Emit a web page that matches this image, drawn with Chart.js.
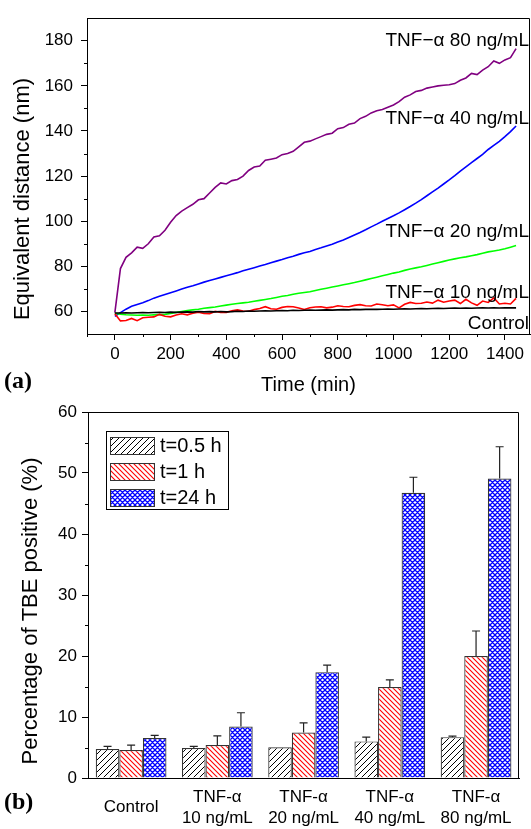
<!DOCTYPE html>
<html>
<head>
<meta charset="utf-8">
<script src="https://cdn.jsdelivr.net/npm/chart.js@4"></script>
<style>
body{margin:0;background:#fff;width:531px;height:829px;position:relative;overflow:hidden}
canvas{position:absolute;left:0}
#c1{top:0}
#c2{top:395px}
.tag{position:absolute;left:4px;font:bold 24px "Liberation Serif","Times New Roman",serif;line-height:28px}
</style>
</head>
<body>
<canvas id="c1" width="531" height="395"></canvas>
<canvas id="c2" width="531" height="434"></canvas>
<div class="tag" style="top:366px">(a)</div>
<div class="tag" style="top:787px">(b)</div>
<script>
'use strict';
// (a) equivalent distance (nm), one reading every 20 min
const times = [
  0, 20, 40, 60, 80, 100, 120, 140, 160, 180,
  200, 220, 240, 260, 280, 300, 320, 340, 360, 380,
  400, 420, 440, 460, 480, 500, 520, 540, 560, 580,
  600, 620, 640, 660, 680, 700, 720, 740, 760, 780,
  800, 820, 840, 860, 880, 900, 920, 940, 960, 980,
  1000, 1020, 1040, 1060, 1080, 1100, 1120, 1140, 1160, 1180,
  1200, 1220, 1240, 1260, 1280, 1300, 1320, 1340, 1360, 1380,
  1400, 1420, 1440];
const control = [
  59.3, 59.3, 59.4, 59.3, 59.4, 59.5, 59.4, 59.5, 59.6, 59.5,
  59.7, 59.6, 59.7, 59.8, 59.7, 60, 59.8, 59.9, 59.8, 60,
  59.8, 59.9, 60.1, 60, 60.2, 60.1, 60.2, 60.3, 60.2, 60.3,
  60.4, 60.3, 60.5, 60.4, 60.5, 60.6, 60.5, 60.6, 60.7, 60.6,
  60.7, 60.8, 60.7, 60.9, 60.8, 60.9, 61, 60.9, 61, 61.1,
  61, 61.1, 61.2, 61.1, 61.2, 61.3, 61.2, 61.3, 61.4, 61.3,
  61.4, 61.5, 61.4, 61.5, 61.4, 61.5, 61.6, 61.5, 61.6, 61.5,
  61.6, 61.6, 61.6];
const tnf10 = [
  59, 55.8, 56, 56.9, 55.9, 57.2, 57.4, 57.6, 58.7, 57.9,
  57.6, 58.4, 59, 58.5, 59.2, 59.7, 59.1, 59, 60, 59.5,
  59.6, 60.3, 60.7, 60.2, 60.1, 60.8, 61.3, 62.1, 61.2, 61,
  61.8, 62.2, 62.1, 61.5, 60.9, 61.6, 62, 62.1, 61.6, 61.9,
  62.5, 62.2, 62.1, 62.7, 63, 62.5, 62.4, 63.3, 63, 62.5,
  62.9, 61.6, 63.2, 64, 63.5, 63.6, 64.2, 63.7, 65, 64.1,
  64.6, 65, 63.5, 65.4, 63.8, 62.7, 64.6, 64, 66, 63.3,
  63.6, 63.3, 65.8];
const tnf20 = [
  59.2, 58.8, 58.5, 58.4, 58.3, 58.4, 58.3, 58.5, 58.6, 58.7,
  59.1, 59.6, 60, 60.4, 60.7, 61, 61.4, 61.7, 62, 62.4,
  62.8, 63.2, 63.5, 63.8, 64.1, 64.5, 64.9, 65.3, 65.7, 66.2,
  66.7, 67.1, 67.6, 68.1, 68.4, 68.7, 69.3, 69.8, 70.3, 70.8,
  71.3, 71.8, 72.3, 72.8, 73.4, 74, 74.6, 75.2, 75.8, 76.4,
  77, 77.5, 78.2, 78.8, 79.3, 79.8, 80.4, 81, 81.6, 82.2,
  82.8, 83.3, 83.8, 84.2, 84.7, 85.2, 85.8, 86.4, 86.8, 87.2,
  87.8, 88.5, 89.2];
const tnf40 = [
  57.8, 59.5, 61, 62.3, 63.1, 63.9, 64.8, 65.9, 66.7, 67.5,
  68.3, 69.1, 69.9, 70.7, 71.4, 72.2, 73, 73.7, 74.4, 75.1,
  75.8, 76.5, 77.2, 78, 78.7, 79.4, 80.1, 80.8, 81.6, 82.3,
  83, 83.8, 84.5, 85.3, 86, 86.6, 87.5, 88.2, 89, 89.8,
  90.8, 91.7, 92.8, 93.9, 95, 96.2, 97.5, 98.7, 100, 101.2,
  102.4, 103.7, 105.1, 106.5, 108, 109.6, 111.3, 113, 114.7, 116.5,
  118.3, 120.2, 122.2, 124.1, 126, 127.8, 129.6, 131.8, 133.6, 135.4,
  137.5, 139.7, 142.2];
const tnf80 = [
  59.5, 79, 84, 86, 88.5, 88, 90, 93, 93.5, 96,
  99.5, 102.5, 104.5, 106, 107.5, 109.5, 110, 112.5, 115, 117,
  116.5, 118, 118.5, 120, 122.5, 124, 124.5, 127, 127.5, 128,
  129.5, 130, 131, 133, 135, 135.5, 136.5, 137.5, 138.5, 139,
  141, 141.5, 143, 143.5, 145.5, 146.5, 148, 149, 149.5, 150.5,
  151.5, 153, 155, 156, 157.5, 158, 159, 159.5, 160, 160.3,
  160.5, 161, 162.5, 163.5, 165.5, 165, 167, 168.5, 171, 170,
  171.5, 172.5, 176.5];
const timeTicks = [0, 200, 400, 600, 800, 1000, 1200, 1400];
const distTicks = [60, 80, 100, 120, 140, 160, 180];

// (b) percentage of TBE positive cells, mean and upper error
const groups = [['Control'], ['TNF-α', '10 ng/mL'], ['TNF-α', '20 ng/mL'], ['TNF-α', '40 ng/mL'], ['TNF-α', '80 ng/mL']];
const tbe05 = [4.75, 4.9, 5.05, 6.0, 6.7];
const err05 = [0.45, 0.3, 0, 0.7, 0.15];
const tbe1 = [4.6, 5.4, 7.45, 14.9, 20.0];
const err1 = [0.8, 1.5, 1.6, 1.2, 4.1];
const tbe24 = [6.55, 8.45, 17.35, 46.75, 49.1];
const err24 = [0.45, 2.25, 1.15, 2.55, 5.2];

Chart.defaults.font.family = '"Liberation Sans", Arial, sans-serif';
Chart.defaults.color = '#000';
Chart.defaults.animation = false;

function pts(ys) {
  return times.map((t, i) => ({ x: t, y: ys[i] }));
}

function hatch(color, kind, s, lw) {
  const c = document.createElement('canvas');
  c.width = c.height = s;
  const g = c.getContext('2d');
  g.fillStyle = '#fff';
  g.fillRect(0, 0, s, s);
  g.strokeStyle = color;
  g.lineWidth = lw;
  g.beginPath();
  if (kind !== '\\') {
    g.moveTo(-1, s + 1); g.lineTo(s + 1, -1);
    g.moveTo(-1, 1); g.lineTo(1, -1);
    g.moveTo(s - 1, s + 1); g.lineTo(s + 1, s - 1);
  }
  if (kind !== '/') {
    g.moveTo(-1, -1); g.lineTo(s + 1, s + 1);
    g.moveTo(-1, s - 1); g.lineTo(1, s + 1);
    g.moveTo(s - 1, -1); g.lineTo(s + 1, 1);
  }
  g.stroke();
  return g.createPattern(c, 'repeat');
}

// box frame, minor ticks, rotated y title, line notes
const extras = {
  id: 'extras',
  afterDraw(chart, args, o) {
    const { ctx, chartArea: a, scales } = chart;
    ctx.save();
    ctx.strokeStyle = '#000';
    ctx.lineWidth = 1;
    ctx.beginPath();
    ctx.moveTo(Math.round(a.left) + 0.5, Math.round(a.top) + 0.5);
    ctx.lineTo(Math.round(a.right) - 0.5, Math.round(a.top) + 0.5);
    ctx.lineTo(Math.round(a.right) - 0.5, Math.round(a.bottom) + 0.5);
    (o.minorX || []).forEach(v => {
      const x = Math.round(scales.x.getPixelForValue(v)) + 0.5;
      ctx.moveTo(x, a.bottom);
      ctx.lineTo(x, a.bottom + o.minorLen);
    });
    (o.minorY || []).forEach(v => {
      const y = Math.round(scales.y.getPixelForValue(v)) + 0.5;
      ctx.moveTo(a.left, y);
      ctx.lineTo(a.left - o.minorLen, y);
    });
    ctx.stroke();

    if (o.yTitle) {
      ctx.save();
      ctx.translate(o.yTitle.x, o.yTitle.y);
      ctx.rotate(-Math.PI / 2);
      ctx.font = '22px "Liberation Sans", Arial, sans-serif';
      ctx.fillStyle = '#000';
      ctx.textAlign = 'center';
      ctx.textBaseline = 'middle';
      ctx.fillText(o.yTitle.text, 0, 0);
      ctx.restore();
    }

    ctx.font = '19px "Liberation Sans", Arial, sans-serif';
    ctx.fillStyle = '#000';
    ctx.textAlign = 'right';
    ctx.textBaseline = 'middle';
    (o.notes || []).forEach(n => {
      ctx.fillText(n.text, a.right - 1, scales.y.getPixelForValue(n.y));
    });
    ctx.restore();
  }
};

const errBars = {
  id: 'errBars',
  afterDatasetsDraw(chart) {
    const { ctx } = chart;
    const ys = chart.scales.y;
    ctx.save();
    ctx.strokeStyle = '#222';
    ctx.lineWidth = 1.2;
    chart.data.datasets.forEach((ds, i) => {
      chart.getDatasetMeta(i).data.forEach((bar, j) => {
        const e = ds.errors[j];
        if (!e) return;
        const y0 = ys.getPixelForValue(ds.data[j]);
        const y1 = ys.getPixelForValue(ds.data[j] + e);
        ctx.beginPath();
        ctx.moveTo(bar.x, y0);
        ctx.lineTo(bar.x, y1);
        ctx.moveTo(bar.x - 4, y1);
        ctx.lineTo(bar.x + 4, y1);
        ctx.stroke();
      });
    });
    ctx.restore();
  }
};

const boxLegend = {
  id: 'boxLegend',
  afterDraw(chart, args, o) {
    const { ctx, chartArea: a } = chart;
    const x0 = a.left + o.dx, y0 = a.top + o.dy;
    ctx.save();
    ctx.strokeStyle = '#000';
    ctx.lineWidth = 1;
    ctx.strokeRect(Math.round(x0) + 0.5, Math.round(y0) + 0.5, o.w, o.h);
    ctx.font = '20px "Liberation Sans", Arial, sans-serif';
    ctx.textBaseline = 'middle';
    chart.data.datasets.forEach((ds, i) => {
      const cy = y0 + o.first + i * o.step;
      ctx.fillStyle = ds.backgroundColor;
      ctx.fillRect(x0 + 4, cy - 8, 44, 17);
      ctx.strokeStyle = '#333';
      ctx.strokeRect(Math.round(x0 + 4) + 0.5, Math.round(cy - 8) + 0.5, 44, 17);
      ctx.fillStyle = '#000';
      ctx.fillText(ds.label, x0 + 54, cy + 1);
    });
    ctx.restore();
  }
};

new Chart(document.getElementById('c1'), {
  type: 'line',
  data: {
    datasets: [
      { label: 'Control', data: pts(control), borderColor: '#000000' },
      { label: 'TNF-α 10 ng/mL', data: pts(tnf10), borderColor: '#ff0000' },
      { label: 'TNF-α 20 ng/mL', data: pts(tnf20), borderColor: '#00ff00' },
      { label: 'TNF-α 40 ng/mL', data: pts(tnf40), borderColor: '#0000ff' },
      { label: 'TNF-α 80 ng/mL', data: pts(tnf80), borderColor: '#800080' },
    ],
  },
  options: {
    responsive: false,
    layout: { padding: { top: 5, right: 1, left: 0, bottom: 0 } },
    elements: { point: { radius: 0 }, line: { borderWidth: 1.6, tension: 0 } },
    plugins: {
      legend: { display: false },
      tooltip: { enabled: false },
      extras: {
        minorLen: 3,
        minorX: [-100, 100, 300, 500, 700, 900, 1100, 1300],
        minorY: [70, 90, 110, 130, 150, 170],
        yTitle: { text: 'Equivalent distance (nm)', x: 23, y: 199 },
        notes: [
          { text: 'TNF−α 80 ng/mL', y: 180 },
          { text: 'TNF−α 40 ng/mL', y: 145.3 },
          { text: 'TNF−α 20 ng/mL', y: 95.2 },
          { text: 'TNF−α 10 ng/mL', y: 68.1 },
          { text: 'Control', y: 54.5 },
        ],
      },
    },
    scales: {
      x: {
        type: 'linear',
        min: -100,
        max: 1490,
        afterBuildTicks: s => { s.ticks = timeTicks.map(v => ({ value: v })); },
        afterFit: s => { s.height = 61; },
        ticks: { font: { size: 17 }, padding: 4, maxRotation: 0, autoSkip: false, callback: v => String(v) },
        grid: { drawOnChartArea: false, tickLength: 6, color: '#000' },
        border: { color: '#000' },
        title: { display: true, text: 'Time (min)', font: { size: 20, lineHeight: 1 }, padding: 0 },
      },
      y: {
        min: 50,
        max: 190,
        afterBuildTicks: s => { s.ticks = distTicks.map(v => ({ value: v })); },
        afterFit: s => { s.width = 87; },
        ticks: { font: { size: 17 }, padding: 8, callback: v => String(v) },
        grid: { drawOnChartArea: false, tickLength: 6, color: '#000' },
        border: { color: '#000' },
      },
    },
  },
  plugins: [extras],
});

new Chart(document.getElementById('c2'), {
  type: 'bar',
  data: {
    labels: groups,
    datasets: [
      { label: 't=0.5 h', data: tbe05, errors: err05, backgroundColor: hatch('#000', '/', 6, 1) },
      { label: 't=1 h', data: tbe1, errors: err1, backgroundColor: hatch('#ff0000', '\\', 5, 1.1) },
      { label: 't=24 h', data: tbe24, errors: err24, backgroundColor: hatch('#0000ff', 'x', 5, 1.3) },
    ],
  },
  options: {
    responsive: false,
    layout: { padding: { top: 17, right: 5, left: 0, bottom: 0 } },
    datasets: { bar: { categoryPercentage: 0.82, barPercentage: 1, borderColor: '#333', borderWidth: 1.2 } },
    plugins: {
      legend: { display: false },
      tooltip: { enabled: false },
      extras: {
        minorLen: 3,
        minorY: [5, 15, 25, 35, 45, 55],
        yTitle: { text: 'Percentage of TBE positive (%)', x: 31, y: 216 },
      },
      boxLegend: { dx: 18, dy: 19, w: 122, h: 78, first: 14, step: 26 },
    },
    scales: {
      x: {
        afterFit: s => { s.height = 51; },
        ticks: { font: { size: 17, lineHeight: 1.25 }, padding: 19, crossAlign: 'center', maxRotation: 0, autoSkip: false },
        grid: { display: false, drawTicks: false, tickLength: 0 },
        border: { color: '#000' },
      },
      y: {
        min: 0,
        max: 60,
        afterFit: s => { s.width = 88; },
        ticks: { stepSize: 10, font: { size: 17 }, padding: 5 },
        grid: { drawOnChartArea: false, tickLength: 6, color: '#000' },
        border: { color: '#000' },
      },
    },
  },
  plugins: [extras, errBars, boxLegend],
});
</script>
</body>
</html>
